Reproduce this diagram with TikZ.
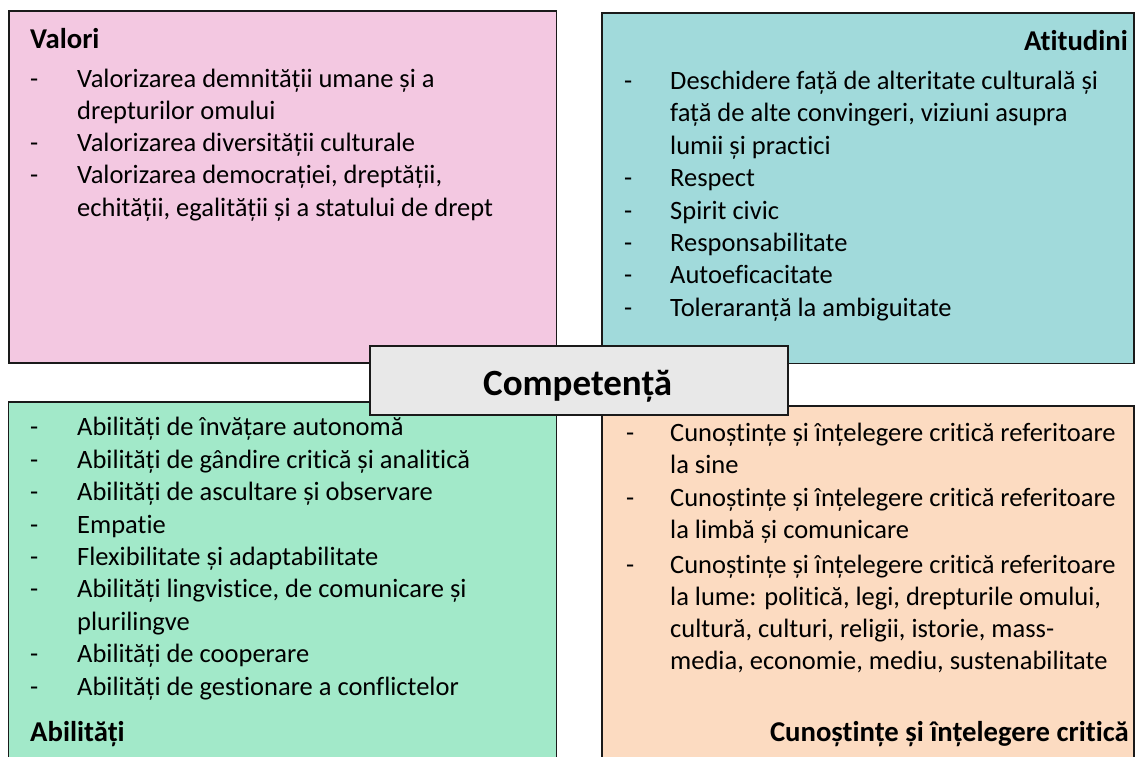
\documentclass[tikz,border=0pt]{standalone}
\usepackage{fontspec}
\setmainfont{Carlito}[Ligatures={NoCommon}]
\definecolor{pinkc}{HTML}{F3C8E1}
\definecolor{tealc}{HTML}{A1DADB}
\definecolor{greenc}{HTML}{A2E9C9}
\definecolor{peachc}{HTML}{FCDBC1}
\definecolor{grayc}{HTML}{E8E8E8}
\definecolor{edge}{HTML}{1A1A1A}
\tikzset{
  box/.style={draw=edge, line width=1.5pt, rectangle, inner sep=0pt, anchor=north west},
  item/.style={anchor=base west, inner sep=0pt, font=\fontsize{26.5}{32.4}\selectfont},
  dashmark/.style={anchor=base west, inner sep=0pt, font=\fontsize{26.5}{32.4}\selectfont},
  headl/.style={anchor=base west, inner sep=0pt, font=\fontsize{28.7}{35}\selectfont\bfseries},
  headr/.style={anchor=base east, inner sep=0pt, font=\fontsize{28.7}{35}\selectfont\bfseries},
  title/.style={anchor=base, inner sep=0pt, font=\fontsize{37}{44}\selectfont\bfseries}
}
\begin{document}
\begin{tikzpicture}[x=1pt,y=-1pt]
\useasboundingbox (0,0) rectangle (1137,756);
\clip (0,0) rectangle (1137,756);
% boxes
\node[box, fill=pinkc, minimum width=547.5pt, minimum height=352pt] (valbox) at (8,10) {};
\node[box, fill=tealc, minimum width=532pt, minimum height=350.5pt] (atbox) at (601,12) {};
\node[box, fill=greenc, minimum width=548pt, minimum height=379pt] (abbox) at (7.5,401) {};
\node[box, fill=peachc, minimum width=532pt, minimum height=375pt] (cubox) at (601,405) {};
\node[box, fill=grayc, minimum width=418pt, minimum height=69pt] (compbox) at (369,345) {};
\node[title] (comp) at (577.7,395) {Competență};
% Valori
\node[headl] (vh) at (30,48.3) {Valori};
\node[dashmark] (vd1) at (30,87.3) {-};
\node[dashmark] (vd2) at (30,151.7) {-};
\node[dashmark] (vd3) at (30,183.9) {-};
\node[item] (v1) at (77,87.3) {Valorizarea demnității umane și a};
\node[item] (v2) at (77,119.5) {drepturilor omului};
\node[item] (v3) at (77,151.7) {Valorizarea diversității culturale};
\node[item] (v4) at (77,183.9) {Valorizarea democrației, dreptății,};
\node[item] (v5) at (77,216.1) {echității, egalității și a statului de drept};
% Atitudini
\node[headr] (ah) at (1128,50) {Atitudini};
\node[dashmark] (ad1) at (624,89.5) {-};
\node[dashmark] (ad2) at (624,186.7) {-};
\node[dashmark] (ad3) at (624,219.1) {-};
\node[dashmark] (ad4) at (624,251.5) {-};
\node[dashmark] (ad5) at (624,283.9) {-};
\node[dashmark] (ad6) at (624,316.3) {-};
\node[item] (a1) at (670,89.5) {Deschidere față de alteritate culturală și};
\node[item] (a2) at (670,121.9) {față de alte convingeri, viziuni asupra};
\node[item] (a3) at (670,154.3) {lumii și practici};
\node[item] (a4) at (670,186.7) {Respect};
\node[item] (a5) at (670,219.1) {Spirit civic};
\node[item] (a6) at (670,251.5) {Responsabilitate};
\node[item] (a7) at (670,283.9) {Autoeficacitate};
\node[item] (a8) at (670,316.3) {Toleraranță la ambiguitate};
% Abilitati
\node[dashmark] (bd1) at (30,435.8) {-};
\node[dashmark] (bd2) at (30,468.2) {-};
\node[dashmark] (bd3) at (30,500.6) {-};
\node[dashmark] (bd4) at (30,533) {-};
\node[dashmark] (bd5) at (30,565.4) {-};
\node[dashmark] (bd6) at (30,597.8) {-};
\node[dashmark] (bd7) at (30,662.6) {-};
\node[dashmark] (bd8) at (30,695) {-};
\node[item] (b1) at (77,435.8) {Abilități de învățare autonomă};
\node[item] (b2) at (77,468.2) {Abilități de gândire critică și analitică};
\node[item] (b3) at (77,500.6) {Abilități de ascultare și observare};
\node[item] (b4) at (77,533) {Empatie};
\node[item] (b5) at (77,565.4) {Flexibilitate și adaptabilitate};
\node[item] (b6) at (77,597.8) {Abilități lingvistice, de comunicare și};
\node[item] (b7) at (77,630.2) {plurilingve};
\node[item] (b8) at (77,662.6) {Abilități de cooperare};
\node[item] (b9) at (77,695) {Abilități de gestionare a conflictelor};
\node[headl] (bh) at (30,741.7) {Abilități};
% Cunostinte
\node[dashmark] (cd1) at (626,441.7) {-};
\node[dashmark] (cd2) at (626,506.5) {-};
\node[dashmark] (cd3) at (626,573) {-};
\node[item] (c1) at (670,441.7) {Cunoștințe și înțelegere critică referitoare};
\node[item] (c2) at (670,473.7) {la sine};
\node[item] (c3) at (670,506.5) {Cunoștințe și înțelegere critică referitoare};
\node[item] (c4) at (670,538.5) {la limbă și comunicare};
\node[item] (c5) at (670,573) {Cunoștințe și înțelegere critică referitoare};
\node[item] (c6) at (670,605) {la lume: politică, legi, drepturile omului,};
\node[item] (c7) at (670,637) {cultură, culturi, religii, istorie, mass-};
\node[item] (c8) at (670,669) {media, economie, mediu, sustenabilitate};
\node[headr] (ch) at (1129,741.7) {Cunoștințe și înțelegere critică};
\end{tikzpicture}
\end{document}
